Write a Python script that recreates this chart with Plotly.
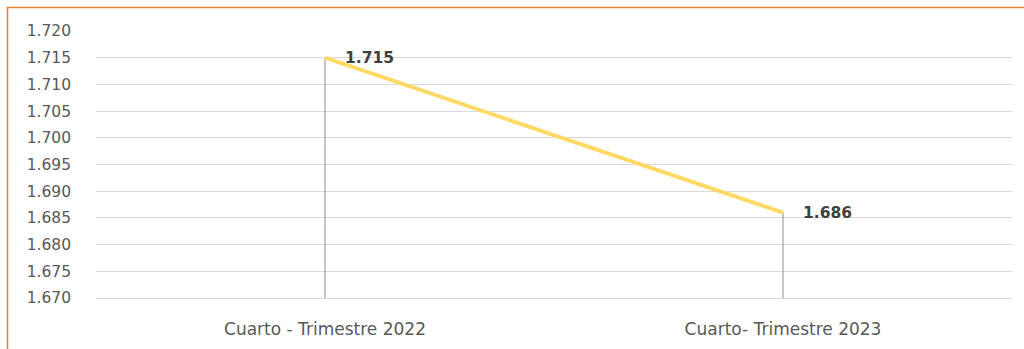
import plotly.graph_objects as go

categories = ["Cuarto - Trimestre 2022", "Cuarto- Trimestre 2023"]
values = [1.715, 1.686]
value_labels = ["1.715", "1.686"]
y_ticks = [1.670, 1.675, 1.680, 1.685, 1.690, 1.695, 1.700, 1.705, 1.710, 1.715, 1.720]
y_tick_labels = ["1.670", "1.675", "1.680", "1.685", "1.690", "1.695", "1.700", "1.705", "1.710", "1.715", "1.720"]

xpos = [i + 0.5 for i in range(len(categories))]
y_min, y_max = y_ticks[0], y_ticks[-1]

fig = go.Figure()

# drop lines
for xp, v in zip(xpos, values):
    fig.add_trace(go.Scatter(x=[xp, xp], y=[y_min, v], mode="lines",
                             line=dict(color="#A6A6A6", width=1.3),
                             hoverinfo="skip", showlegend=False))

fig.add_trace(go.Scatter(x=xpos, y=values, mode="lines",
                         line=dict(color="#FFD966", width=4),
                         showlegend=False))

for xp, v, t in zip(xpos, values, value_labels):
    fig.add_annotation(x=xp, y=v, text="<b>" + t + "</b>", showarrow=False,
                       xanchor="left", yanchor="middle", xshift=18,
                       font=dict(family="DejaVu Sans", size=15.5, color="#404040"))

W, H = 1024, 349
ml, mr, mt, mb = 96, 12, 31, 51
pw, ph = W - ml - mr, H - mt - mb

def px_to_paper_x(px):
    return (px - ml) / pw

def px_to_paper_y(py):
    return (H - mb - py) / ph

fig.add_shape(type="rect", xref="paper", yref="paper",
              x0=px_to_paper_x(7.5), x1=px_to_paper_x(1030),
              y0=px_to_paper_y(360), y1=px_to_paper_y(7.5),
              line=dict(color="#ED7D31", width=1.5), fillcolor="rgba(0,0,0,0)",
              layer="below")

fig.update_layout(
    width=W, height=H,
    margin=dict(l=ml, r=mr, t=mt, b=mb),
    paper_bgcolor="white", plot_bgcolor="white",
    font=dict(family="DejaVu Sans", size=14, color="#595959"),
    xaxis=dict(range=[0, len(categories)], tickvals=xpos, ticktext=categories,
               showgrid=False, zeroline=False, showline=True, linecolor="#D9D9D9",
               linewidth=1, ticks="", ticklabelstandoff=16, automargin=False,
               tickfont=dict(size=17, color="#595959"),
               fixedrange=True),
    yaxis=dict(range=[y_min, y_max], tickvals=y_ticks, ticktext=y_tick_labels,
               showgrid=True, gridcolor="#D9D9D9", gridwidth=1, zeroline=False,
               showline=False, ticks="", ticklabelstandoff=24, automargin=False,
               tickfont=dict(size=15.5, color="#595959"), fixedrange=True),
)

fig.write_html("out.html")
